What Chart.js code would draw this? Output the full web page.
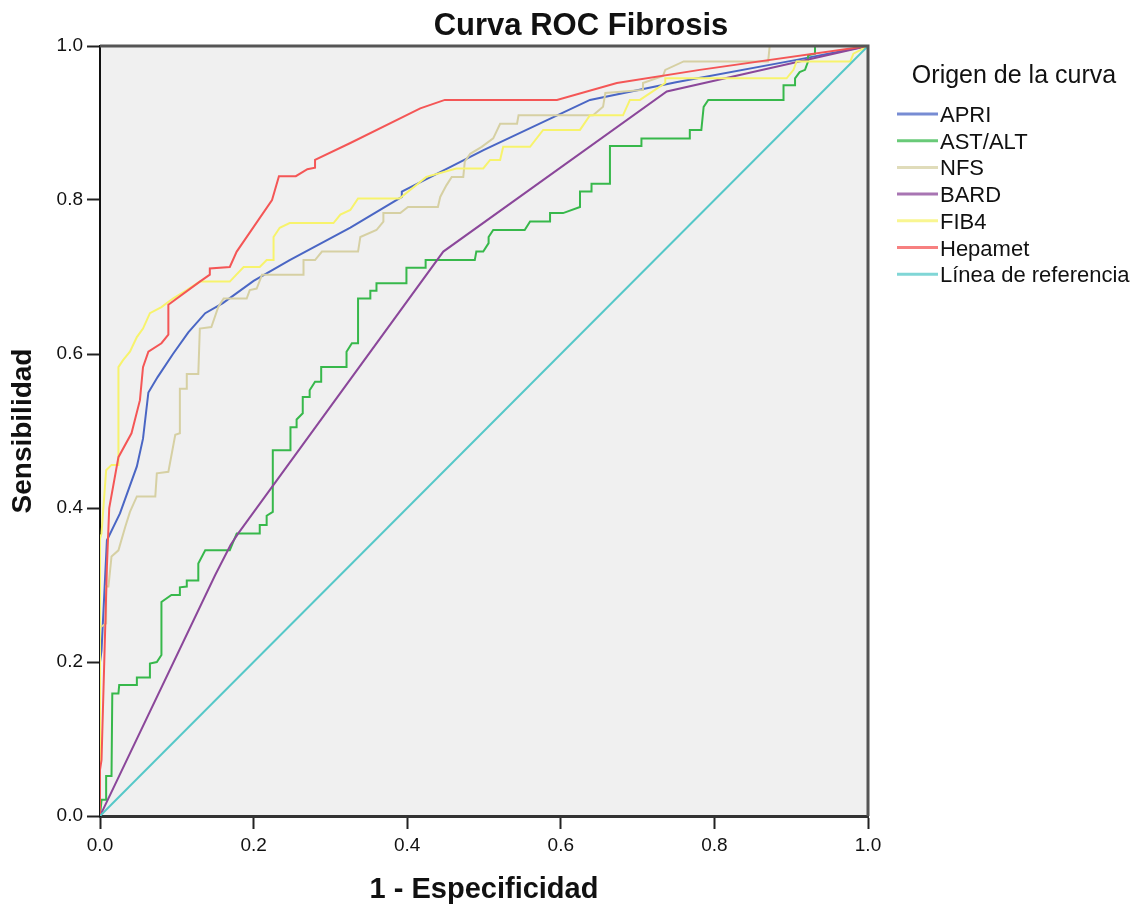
<!DOCTYPE html>
<html>
<head>
<meta charset="utf-8">
<script src="https://cdn.jsdelivr.net/npm/chart.js@4"></script>
<style>
  html, body { margin: 0; padding: 0; background: #fff; }
  canvas { display: block; }
</style>
</head>
<body>
<canvas id="roc" width="1138" height="911"></canvas>
<script>
(function () {
    'use strict';

    // curve points: [1 - especificidad, sensibilidad]
    var apri = [[0,0],[0,0.2],[0.002,0.215],[0.009,0.358],[0.026,0.393],[0.048,0.454],[0.056,0.49],
        [0.063,0.55],[0.075,0.57],[0.095,0.6],[0.115,0.628],[0.137,0.653],[0.16,0.666],[0.2,0.695],
        [0.247,0.722],[0.326,0.764],[0.393,0.804],[0.393,0.811],[0.5,0.865],[0.638,0.93],[0.75,0.953],
        [0.907,0.982],[1,1]];

    var astAlt = [[0,0],[0.002,0.021],[0.008,0.021],[0.008,0.052],[0.015,0.052],[0.016,0.159],[0.024,0.159],
        [0.025,0.17],[0.048,0.17],[0.048,0.18],[0.065,0.18],[0.065,0.198],[0.074,0.2],[0.08,0.209],
        [0.08,0.278],[0.093,0.287],[0.104,0.287],[0.104,0.297],[0.113,0.298],[0.113,0.306],[0.128,0.306],
        [0.128,0.328],[0.137,0.345],[0.169,0.345],[0.178,0.367],[0.208,0.367],[0.208,0.378],[0.217,0.378],
        [0.217,0.39],[0.225,0.395],[0.225,0.475],[0.248,0.475],[0.248,0.505],[0.256,0.505],[0.256,0.515],
        [0.264,0.523],[0.264,0.544],[0.273,0.544],[0.273,0.553],[0.28,0.564],[0.288,0.564],[0.288,0.583],
        [0.321,0.583],[0.321,0.603],[0.328,0.614],[0.336,0.614],[0.336,0.672],[0.352,0.672],[0.352,0.682],
        [0.36,0.682],[0.36,0.692],[0.399,0.692],[0.399,0.712],[0.424,0.712],[0.424,0.722],[0.488,0.722],
        [0.49,0.733],[0.499,0.733],[0.506,0.744],[0.506,0.752],[0.512,0.761],[0.553,0.761],[0.56,0.772],
        [0.586,0.772],[0.586,0.783],[0.603,0.783],[0.625,0.791],[0.625,0.811],[0.64,0.811],[0.64,0.821],
        [0.664,0.821],[0.664,0.87],[0.705,0.87],[0.705,0.88],[0.768,0.88],[0.768,0.891],[0.783,0.891],
        [0.786,0.921],[0.792,0.93],[0.89,0.93],[0.89,0.949],[0.905,0.949],[0.905,0.958],[0.911,0.966],
        [0.918,0.969],[0.922,0.98],[0.922,0.988],[0.931,0.99],[0.931,1],[1,1]];

    var nfs = [[0,0],[0,0.245],[0.008,0.25],[0.008,0.298],[0.011,0.298],[0.015,0.337],[0.024,0.345],
        [0.033,0.376],[0.039,0.395],[0.048,0.415],[0.072,0.415],[0.074,0.445],[0.089,0.447],[0.098,0.495],
        [0.104,0.497],[0.104,0.555],[0.113,0.555],[0.113,0.574],[0.128,0.574],[0.13,0.633],[0.145,0.635],
        [0.154,0.661],[0.161,0.672],[0.191,0.672],[0.195,0.683],[0.204,0.685],[0.211,0.703],[0.265,0.703],
        [0.265,0.722],[0.28,0.722],[0.289,0.733],[0.336,0.733],[0.339,0.752],[0.36,0.761],[0.369,0.772],
        [0.369,0.783],[0.391,0.783],[0.401,0.791],[0.44,0.791],[0.443,0.804],[0.451,0.819],[0.458,0.83],
        [0.473,0.83],[0.475,0.85],[0.482,0.86],[0.497,0.869],[0.512,0.88],[0.521,0.899],[0.543,0.899],
        [0.545,0.91],[0.642,0.91],[0.655,0.921],[0.658,0.939],[0.707,0.943],[0.707,0.952],[0.733,0.961],
        [0.736,0.969],[0.76,0.98],[0.87,0.98],[0.872,1],[1,1]];

    var bard = [[0,0],[0.15,0.313],[0.17,0.352],[0.18,0.367],[0.447,0.733],[0.738,0.941],[1,1]];

    var fib4 = [[0,0],[0,0.36],[0.002,0.367],[0.008,0.449],[0.015,0.456],[0.024,0.456],[0.024,0.583],
        [0.03,0.592],[0.039,0.603],[0.048,0.622],[0.056,0.633],[0.065,0.653],[0.08,0.661],[0.095,0.672],
        [0.113,0.683],[0.13,0.694],[0.169,0.694],[0.187,0.713],[0.208,0.713],[0.217,0.722],[0.226,0.722],
        [0.226,0.752],[0.234,0.764],[0.247,0.77],[0.304,0.77],[0.313,0.781],[0.326,0.787],[0.336,0.802],
        [0.39,0.802],[0.425,0.83],[0.464,0.841],[0.499,0.841],[0.508,0.852],[0.521,0.852],[0.525,0.869],
        [0.56,0.869],[0.577,0.891],[0.625,0.891],[0.638,0.91],[0.681,0.91],[0.69,0.93],[0.703,0.93],
        [0.736,0.952],[0.736,0.958],[0.894,0.958],[0.903,0.969],[0.907,0.98],[0.977,0.98],[0.981,0.99],[1,1]];

    var hepamet = [[0,0],[0,0.06],[0.002,0.073],[0.009,0.324],[0.012,0.4],[0.024,0.466],[0.041,0.497],
        [0.052,0.54],[0.056,0.583],[0.063,0.603],[0.08,0.614],[0.089,0.625],[0.089,0.664],[0.13,0.694],
        [0.143,0.703],[0.143,0.711],[0.169,0.713],[0.178,0.733],[0.224,0.8],[0.233,0.831],[0.255,0.831],
        [0.27,0.84],[0.28,0.842],[0.28,0.852],[0.326,0.874],[0.417,0.919],[0.449,0.93],[0.595,0.93],
        [0.673,0.952],[0.781,0.969],[1,1]];

    var reference = [[0,0],[1,1]];

    var seriesNames = ['APRI', 'AST/ALT', 'NFS', 'BARD', 'FIB4', 'Hepamet', 'Línea de referencia'];
    var seriesData = [apri, astAlt, nfs, bard, fib4, hepamet, reference];
    var seriesColors = ['#4a66c4', '#37b84b', '#d6d0a3', '#8b479a', '#f7f36c', '#f45656', '#55c8c8'];
    var axisTicks = [0, 0.2, 0.4, 0.6, 0.8, 1.0];

    var FONT = '"Liberation Sans", Arial, sans-serif';

    var plotBackground = {
        id: 'plotBackground',
        beforeDraw: function (chart) {
            var a = chart.chartArea, ctx = chart.ctx;
            ctx.save();
            ctx.fillStyle = '#f0f0f0';
            ctx.fillRect(a.left, a.top, a.right - a.left, a.bottom - a.top);
            ctx.restore();
        },
        afterDraw: function (chart) {
            var a = chart.chartArea, ctx = chart.ctx;
            ctx.save();
            ctx.strokeStyle = '#555';
            ctx.lineWidth = 3;
            ctx.beginPath();
            ctx.moveTo(a.left, a.top);
            ctx.lineTo(a.right, a.top);
            ctx.lineTo(a.right, a.bottom);
            ctx.stroke();

            // title
            ctx.fillStyle = '#111';
            ctx.font = 'bold 31px ' + FONT;
            ctx.textAlign = 'center';
            ctx.textBaseline = 'middle';
            ctx.fillText('Curva ROC Fibrosis', 581, 26);

            // legend
            ctx.font = '25px ' + FONT;
            ctx.fillText('Origen de la curva', 1014, 76);
            ctx.font = '22px ' + FONT;
            ctx.textAlign = 'left';
            chart.data.datasets.forEach(function (ds, i) {
                var y = 114 + i * 26.7;
                ctx.strokeStyle = ds.borderColor;
                ctx.globalAlpha = 0.75;
                ctx.lineWidth = 3;
                ctx.beginPath();
                ctx.moveTo(897, y);
                ctx.lineTo(938, y);
                ctx.stroke();
                ctx.globalAlpha = 1;
                ctx.fillStyle = '#111';
                ctx.fillText(ds.label, 940, y + 2);
            });
            ctx.restore();
        }
    };

    function setTicks(scale) {
        scale.ticks = axisTicks.map(function (v) { return { value: v }; });
    }

    new Chart(document.getElementById('roc'), {
        type: 'scatter',
        data: {
            datasets: seriesData.map(function (pts, i) {
                return {
                    label: seriesNames[i],
                    data: pts.map(function (p) { return { x: p[0], y: p[1] }; }),
                    showLine: true,
                    borderColor: seriesColors[i],
                    backgroundColor: seriesColors[i],
                    borderWidth: 2,
                    pointRadius: 0,
                    tension: 0,
                    order: seriesData.length - i
                };
            })
        },
        options: {
            responsive: false,
            animation: false,
            devicePixelRatio: 1,
            layout: { padding: { top: 46, right: 270, left: 0, bottom: 0 } },
            plugins: {
                legend: { display: false },
                title: { display: false },
                tooltip: { enabled: false }
            },
            scales: {
                x: {
                    type: 'linear',
                    min: 0,
                    max: 1,
                    afterBuildTicks: setTicks,
                    afterFit: function (s) { s.height = 95; },
                    border: { display: true, color: '#333', width: 3 },
                    grid: { drawOnChartArea: false, drawTicks: true, tickLength: 13, tickColor: '#222', tickWidth: 2 },
                    ticks: {
                        color: '#111',
                        padding: 5,
                        font: { family: FONT, size: 19 },
                        callback: function (v) { return v.toFixed(1); }
                    },
                    title: {
                        display: true,
                        text: '1 - Especificidad',
                        color: '#111',
                        padding: { top: 0, bottom: 4 },
                        font: { family: FONT, size: 29, weight: 'bold' }
                    }
                },
                y: {
                    type: 'linear',
                    min: 0,
                    max: 1,
                    afterBuildTicks: setTicks,
                    afterFit: function (s) { s.width = 100; },
                    border: { display: true, color: '#111', width: 2 },
                    grid: { drawOnChartArea: false, drawTicks: true, tickLength: 13, tickColor: '#222', tickWidth: 2 },
                    ticks: {
                        color: '#111',
                        padding: 4,
                        font: { family: FONT, size: 19 },
                        callback: function (v) { return v.toFixed(1); }
                    },
                    title: {
                        display: true,
                        text: 'Sensibilidad',
                        color: '#111',
                        padding: { top: 6, bottom: 0 },
                        font: { family: FONT, size: 28, weight: 'bold' }
                    }
                }
            }
        },
        plugins: [plotBackground]
    });
}());
</script>
</body>
</html>
